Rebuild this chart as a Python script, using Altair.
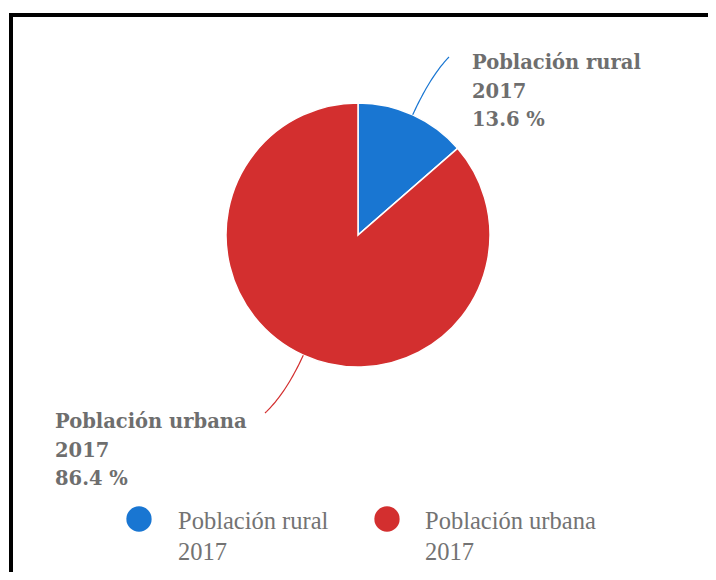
import altair as alt
import numpy as np
import pandas as pd

# ---- data ----
categories = ["Población rural 2017", "Población urbana 2017"]
short_names = ["Población rural", "Población urbana"]
years = ["2017", "2017"]
values = [13.6, 86.4]
colors = ["#1976d2", "#d32f2f"]

# ---- layout (chart pixel coordinates) ----
W, H = 700, 564
CX, CY, R = 350, 227, 132
label_pos = [(464, 61), (47, 420)]          # left x, first baseline
line_end = [(441, 49), (257, 405)]          # end of leader line
legend_dot = [(131, 511), (379, 511)]
legend_txt = [(170, 521), (417, 521)]
TXT_COLOR = "#6e6e6e"

df = pd.DataFrame({"cat": categories, "value": values, "order": [0, 1]})
color_scale = alt.Scale(domain=categories, range=colors)

pie = alt.Chart(df).mark_arc(
    outerRadius=R, stroke="white", strokeWidth=1.5
).encode(
    theta=alt.Theta("value:Q", stack=True),
    color=alt.Color("cat:N", scale=color_scale, legend=None),
    order=alt.Order("order:Q"),
    x=alt.value(CX),
    y=alt.value(CY),
)

# leader lines derived from slice mid-angles
tot = sum(values)
cum = np.cumsum([0] + values[:-1])
rows = []
for i, v in enumerate(values):
    mid = (cum[i] + v / 2) / tot * 2 * np.pi
    dx, dy = np.sin(mid), -np.cos(mid)
    p0 = np.array([CX + R * dx, CY + R * dy])
    p1 = np.array([CX + (R + 42) * dx, CY + (R + 42) * dy])
    p2 = np.array(line_end[i])
    for k, t in enumerate(np.linspace(0, 1, 25)):
        p = (1 - t) ** 2 * p0 + 2 * (1 - t) * t * p1 + t ** 2 * p2
        rows.append({"cat": categories[i], "px": p[0], "py": p[1], "k": k})
lines_df = pd.DataFrame(rows)

leaders = alt.Chart(lines_df).mark_line(strokeWidth=1.2).encode(
    x=alt.X("px:Q", scale=None, axis=None),
    y=alt.Y("py:Q", scale=None, axis=None),
    color=alt.Color("cat:N", scale=color_scale, legend=None),
    detail="cat:N",
    order="k:Q",
)

lab_df = pd.DataFrame({
    "txt": [f"{n}\n{y}\n{v} %" for n, y, v in zip(short_names, years, values)],
    "px": [p[0] for p in label_pos],
    "py": [p[1] for p in label_pos],
})
labels = alt.Chart(lab_df).mark_text(
    align="left", baseline="alphabetic", lineBreak="\n", lineHeight=28.5,
    font="DejaVu Serif", fontWeight="bold", fontSize=19.5, color=TXT_COLOR,
).encode(
    x=alt.X("px:Q", scale=None, axis=None),
    y=alt.Y("py:Q", scale=None, axis=None),
    text="txt:N",
)

leg_df = pd.DataFrame({
    "cat": categories,
    "txt": [f"{n}\n{y}" for n, y in zip(short_names, years)],
    "dx": [p[0] for p in legend_dot],
    "dy": [p[1] for p in legend_dot],
    "tx": [p[0] for p in legend_txt],
    "ty": [p[1] for p in legend_txt],
})
leg_dots = alt.Chart(leg_df).mark_point(filled=True, shape="circle", size=640, opacity=1).encode(
    x=alt.X("dx:Q", scale=None, axis=None),
    y=alt.Y("dy:Q", scale=None, axis=None),
    color=alt.Color("cat:N", scale=color_scale, legend=None),
)
leg_text = alt.Chart(leg_df).mark_text(
    align="left", baseline="alphabetic", lineBreak="\n", lineHeight=31,
    font="Liberation Serif", fontSize=24.5, color="#737373",
).encode(
    x=alt.X("tx:Q", scale=None, axis=None),
    y=alt.Y("ty:Q", scale=None, axis=None),
    text="txt:N",
)

base = alt.Chart(pd.DataFrame({"a": [0]}))
frame_top = base.mark_rule(color="black", strokeWidth=4).encode(
    x=alt.value(1), x2=alt.value(W + 20), y=alt.value(7)
)
frame_left = base.mark_rule(color="black", strokeWidth=4).encode(
    x=alt.value(3), y=alt.value(5), y2=alt.value(H + 20)
)

chart = alt.layer(frame_top, frame_left, pie, leaders, labels, leg_dots, leg_text).properties(
    width=W, height=H, autosize=alt.AutoSizeParams(type="none"), padding=0
).configure_view(stroke=None)

chart.save("out.html", embed_options={"renderer": "svg", "actions": False})
